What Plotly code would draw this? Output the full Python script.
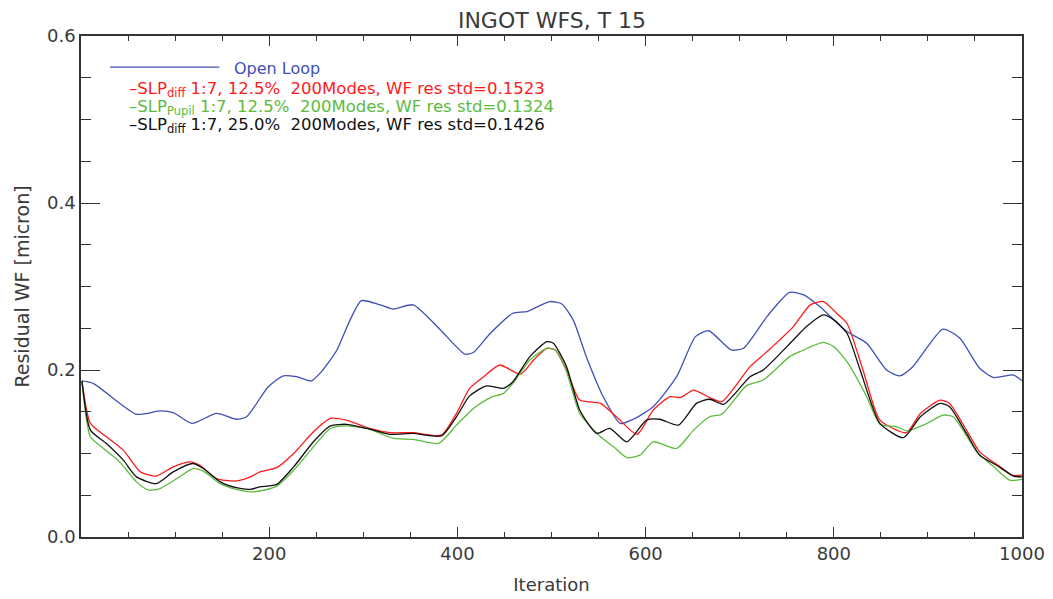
import plotly.graph_objects as go

# ---- data ----
open_loop_x = [1, 13, 59, 84, 98, 118, 144, 165, 176, 199, 215, 229, 245, 257, 272, 286, 298, 318, 332, 353,
               382, 408, 417, 435, 459, 474, 498, 511, 523, 537, 555, 573, 587, 608, 633, 653, 667, 691, 704,
               729, 753, 768, 785, 814, 835, 856, 870, 884, 916, 934, 955, 970, 991, 1000]
open_loop_y = [0.187, 0.184, 0.147, 0.151, 0.149, 0.136, 0.148, 0.141, 0.144, 0.180, 0.193, 0.192, 0.187, 0.200,
               0.224, 0.260, 0.283, 0.278, 0.273, 0.278, 0.248, 0.219, 0.221, 0.244, 0.268, 0.270, 0.282,
               0.279, 0.260, 0.216, 0.168, 0.136, 0.141, 0.156, 0.192, 0.240, 0.247, 0.224, 0.226, 0.264,
               0.293, 0.290, 0.276, 0.246, 0.232, 0.200, 0.193, 0.204, 0.249, 0.238, 0.202, 0.191, 0.194, 0.187]

diff125_x = [1, 10, 27, 45, 63, 80, 98, 116, 126, 144, 164, 180, 190, 208, 226, 247, 265, 282, 304, 328, 353,
             383, 399, 413, 428, 445, 467, 481, 495, 504, 516, 530, 552, 569, 591, 608, 626, 637, 651, 668,
             681, 711, 729, 757, 775, 789, 803, 814, 831, 849, 877, 892, 913, 923, 941, 955, 977, 989, 1000]
diff125_y = [0.187, 0.136, 0.120, 0.104, 0.078, 0.073, 0.084, 0.090, 0.086, 0.070, 0.067, 0.072, 0.078, 0.083,
             0.100, 0.126, 0.142, 0.140, 0.131, 0.125, 0.125, 0.122, 0.148, 0.178, 0.192, 0.206, 0.195,
             0.212, 0.226, 0.224, 0.200, 0.164, 0.160, 0.144, 0.123, 0.152, 0.168, 0.167, 0.176, 0.167,
             0.162, 0.204, 0.222, 0.252, 0.278, 0.282, 0.268, 0.256, 0.200, 0.140, 0.125, 0.148, 0.164,
             0.160, 0.128, 0.102, 0.084, 0.074, 0.074]

pupil125_x = [1, 10, 24, 41, 59, 72, 84, 102, 119, 130, 148, 165, 180, 194, 208, 226, 247, 265, 282, 304, 318,
              332, 353, 380, 399, 417, 435, 449, 459, 477, 495, 504, 516, 530, 552, 566, 580, 594, 608, 633,
              651, 668, 681, 707, 725, 753, 764, 789, 800, 814, 835, 849, 867, 878, 899, 916, 927, 952, 970,
              987, 1000]
pupil125_y = [0.187, 0.120, 0.106, 0.090, 0.066, 0.056, 0.058, 0.070, 0.082, 0.079, 0.064, 0.057, 0.054, 0.056,
              0.061, 0.080, 0.108, 0.130, 0.133, 0.130, 0.124, 0.118, 0.117, 0.112, 0.134, 0.154, 0.167,
              0.172, 0.184, 0.212, 0.226, 0.224, 0.198, 0.148, 0.120, 0.108, 0.095, 0.098, 0.114, 0.106,
              0.128, 0.144, 0.147, 0.181, 0.188, 0.216, 0.222, 0.233, 0.228, 0.210, 0.168, 0.135, 0.132,
              0.127, 0.136, 0.146, 0.144, 0.102, 0.084, 0.068, 0.069]

diff250_x = [1, 10, 27, 45, 59, 80, 98, 119, 130, 148, 165, 180, 190, 208, 226, 247, 265, 282, 304, 328, 353,
             383, 399, 413, 431, 449, 459, 477, 495, 502, 516, 530, 548, 562, 580, 601, 615, 635, 654, 668,
             683, 711, 725, 757, 771, 789, 800, 814, 828, 849, 874, 892, 913, 923, 941, 955, 973, 991, 1000]
diff250_y = [0.187, 0.128, 0.112, 0.092, 0.072, 0.064, 0.078, 0.088, 0.082, 0.066, 0.059, 0.057, 0.060, 0.063,
             0.084, 0.114, 0.133, 0.135, 0.130, 0.123, 0.124, 0.121, 0.144, 0.169, 0.181, 0.178, 0.186,
             0.216, 0.234, 0.232, 0.204, 0.152, 0.124, 0.130, 0.114, 0.140, 0.141, 0.134, 0.160, 0.165,
             0.159, 0.192, 0.200, 0.236, 0.252, 0.266, 0.260, 0.244, 0.200, 0.136, 0.119, 0.144, 0.160,
             0.156, 0.124, 0.098, 0.086, 0.073, 0.072]

x_tickvals = [200, 400, 600, 800, 1000]
y_tickvals = [0.0, 0.2, 0.4, 0.6]
y_ticktext = ["0.0", "0.2", "0.4", "0.6"]

title_text = "INGOT WFS, T 15"
x_title = "Iteration"
y_title = "Residual WF [micron]"

legend_entries = [
    ("\u2013SLP<sub>diff</sub> 1:7, 12.5%\u00a0 200Modes, WF res std=0.1523", "#ff1a1a"),
    ("\u2013SLP<sub>Pupil</sub> 1:7, 12.5%\u00a0 200Modes, WF res std=0.1324", "#5cbb3c"),
    ("\u2013SLP<sub>diff</sub> 1:7, 25.0%\u00a0 200Modes, WF res std=0.1426", "#111111"),
]

BLUE = "#3f51b5"
FONT = "DejaVu Sans"
TXT = "#3a3a3a"

fig = go.Figure()
series = [
    (open_loop_x, open_loop_y, BLUE),
    (diff125_x, diff125_y, "#ff1a1a"),
    (pupil125_x, pupil125_y, "#5cbb3c"),
    (diff250_x, diff250_y, "#111111"),
]
for xs, ys, col in series:
    fig.add_trace(go.Scatter(x=xs, y=ys, mode="lines",
                             line=dict(color=col, width=1.3, shape="spline", smoothing=0.6),
                             showlegend=False, hoverinfo="skip"))

axis_common = dict(showgrid=False, zeroline=False, showline=True, linecolor="#333333", linewidth=1.5,
                   mirror="allticks", ticks="inside", tickcolor="#333333", tickwidth=1.2,
                   automargin=False,
                   tickfont=dict(family=FONT, size=18, color=TXT))

fig.update_xaxes(range=[0, 1000], tickmode="array", tickvals=x_tickvals, ticklen=10,
                 minor=dict(dtick=50, tick0=0, ticklen=5, ticks="inside", tickcolor="#333333", tickwidth=1.2),
                 title=dict(text=x_title, font=dict(family=FONT, size=18, color=TXT), standoff=15),
                 **axis_common)
fig.update_yaxes(range=[0, 0.6], tickmode="array", tickvals=y_tickvals, ticktext=y_ticktext, ticklen=19,
                 minor=dict(dtick=0.05, tick0=0, ticklen=10, ticks="inside", tickcolor="#333333", tickwidth=1.2),
                 title=dict(text=y_title, font=dict(family=FONT, size=19, color=TXT), standoff=12),
                 **axis_common)

# legend (drawn inside the plot, as in the reference)
fig.add_shape(type="line", xref="paper", yref="paper", x0=0.031, x1=0.147, y0=0.938, y1=0.938,
              line=dict(color=BLUE, width=1.3))
fig.add_annotation(text="Open Loop", xref="paper", yref="paper", x=0.160, y=0.936, xanchor="left",
                   yanchor="middle", showarrow=False, font=dict(family=FONT, size=16, color=BLUE))
leg_y = [0.894, 0.858, 0.822]
for (txt, col), yy in zip(legend_entries, leg_y):
    fig.add_annotation(text=txt, xref="paper", yref="paper", x=0.049, y=yy, xanchor="left",
                       yanchor="middle", showarrow=False, font=dict(family=FONT, size=16.5, color=col))

# the page adds an 8 px offset; margins compensate so the plot box matches the reference
fig.update_layout(
    width=1053, height=599,
    margin=dict(l=73, r=39, t=28, b=70),
    paper_bgcolor="white", plot_bgcolor="white",
    title=dict(text=title_text, x=544 / 1053, xanchor="center", xref="container",
               y=1 - 12 / 599, yanchor="middle", yref="container",
               font=dict(family=FONT, size=22, color=TXT)),
)

fig.write_html("out.html")
